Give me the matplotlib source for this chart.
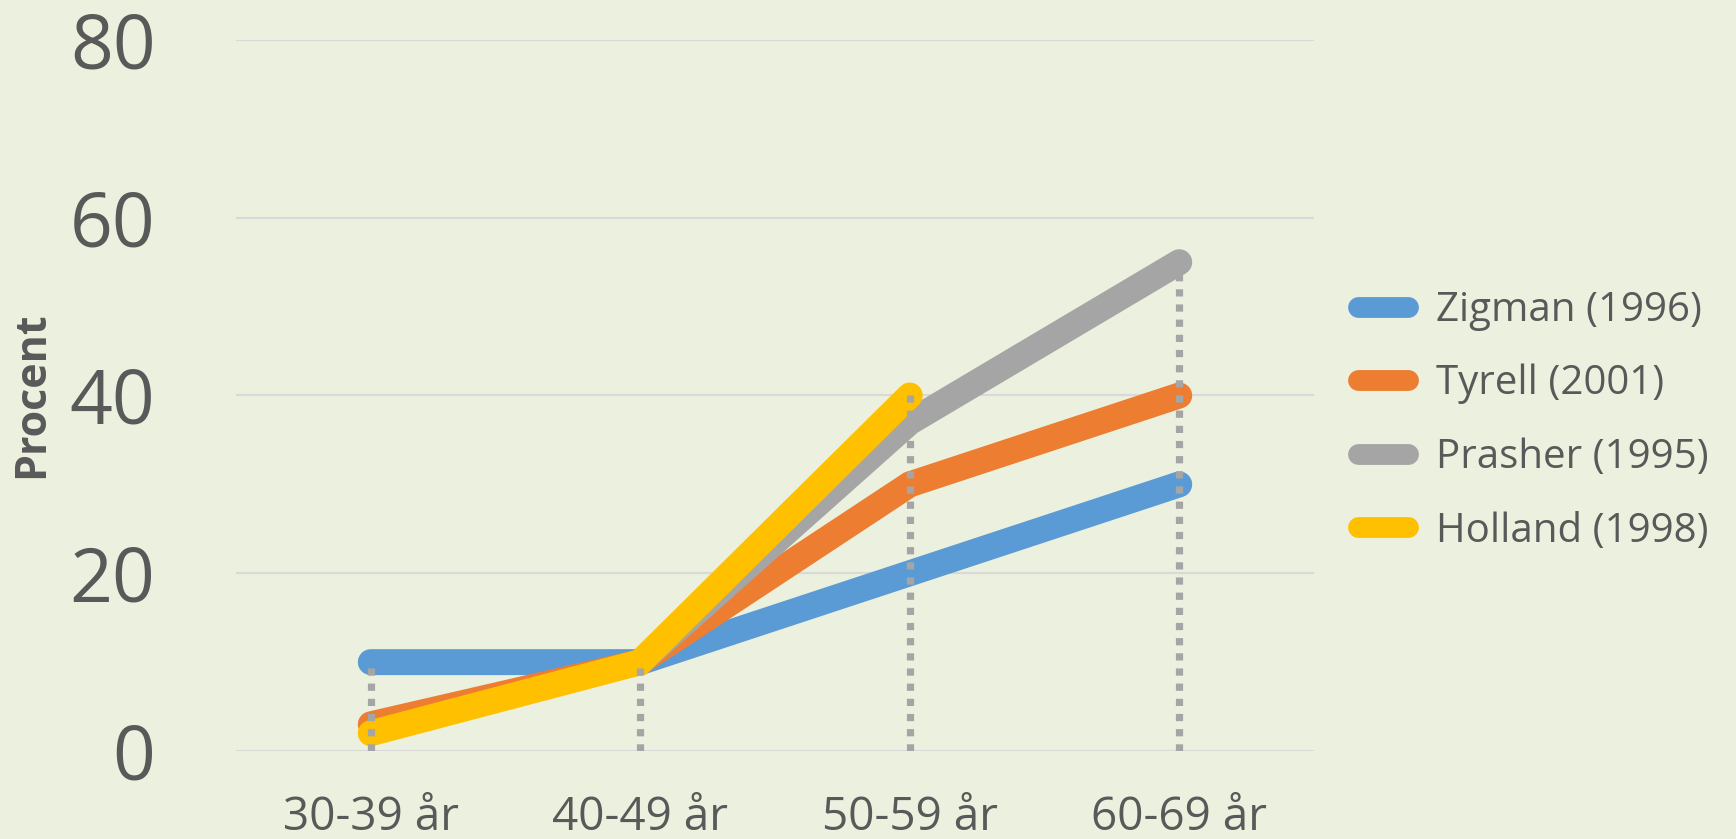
import numpy as np
import matplotlib
matplotlib.use("Agg")
import matplotlib.pyplot as plt
from matplotlib.lines import Line2D

plt.rcParams['font.family'] = ['Open Sans', 'DejaVu Sans']

# age groups and prevalence (%) per study
age_groups = ["30-39 år", "40-49 år", "50-59 år", "60-69 år"]
studies = ["Zigman (1996)", "Tyrell (2001)", "Prasher (1995)", "Holland (1998)"]
zigman = [10, 10, 20, 30]
tyrell = [3, 10, 30, 40]
prasher = [np.nan, 10, 37, 55]
holland = [2, 10, 40, np.nan]
colors = ["#5B9BD5", "#ED7D31", "#A5A5A5", "#FFC000"]
y_ticks = [0, 20, 40, 60, 80]

text_col = "#595959"
bg = "#EBF1DE"

fig = plt.figure(figsize=(17.36, 8.39), dpi=100, facecolor=bg)
ax = fig.add_axes([236 / 1736, 88 / 839, 1078 / 1736, 711 / 839])
ax.set_facecolor(bg)

x = np.arange(len(age_groups))
series = [zigman, tyrell, prasher, holland]
for vals, col in zip(series, colors):
    ax.plot(x, vals, color=col, lw=18.7, solid_capstyle="round",
            solid_joinstyle="miter", zorder=3, clip_on=False)

# drop lines from the highest value down to the axis
tops = np.nanmax(np.array(series, dtype=float), axis=0)
ax.vlines(x, 0, tops, colors="#A5A5A5", linewidth=5.2,
          linestyles=[(0, (1, 1.1))], capstyle="butt", zorder=4)

ax.set_xlim(-0.5, 3.5)
ax.set_ylim(0, 80)
ax.set_yticks(y_ticks)
ax.set_xticks(x)
ax.set_xticklabels(age_groups)
ax.yaxis.grid(True, color="#D9D9D9", lw=1.5, zorder=0)
ax.set_axisbelow(True)
for s in ax.spines.values():
    s.set_visible(False)
ax.tick_params(axis="y", length=0, pad=58, labelsize=54, labelcolor=text_col)
ax.tick_params(axis="x", length=0, pad=32, labelsize=33, labelcolor=text_col)

fig.text(32 / 1736, 1 - 395 / 839, "Procent", rotation=90, ha="center",
         va="center", fontsize=31, fontweight="bold", color=text_col)

handles = [Line2D([], [], color=c, lw=15, solid_capstyle="round") for c in colors]
fig.legend(handles, studies, loc="center left",
           bbox_to_anchor=(1357.5 / 1736, 1 - 421 / 839), frameon=False,
           fontsize=29, labelcolor=text_col, handlelength=1.26,
           handletextpad=0.68, labelspacing=0.82, borderpad=0,
           borderaxespad=0)

fig.savefig("out.png", dpi=100, facecolor=bg)
